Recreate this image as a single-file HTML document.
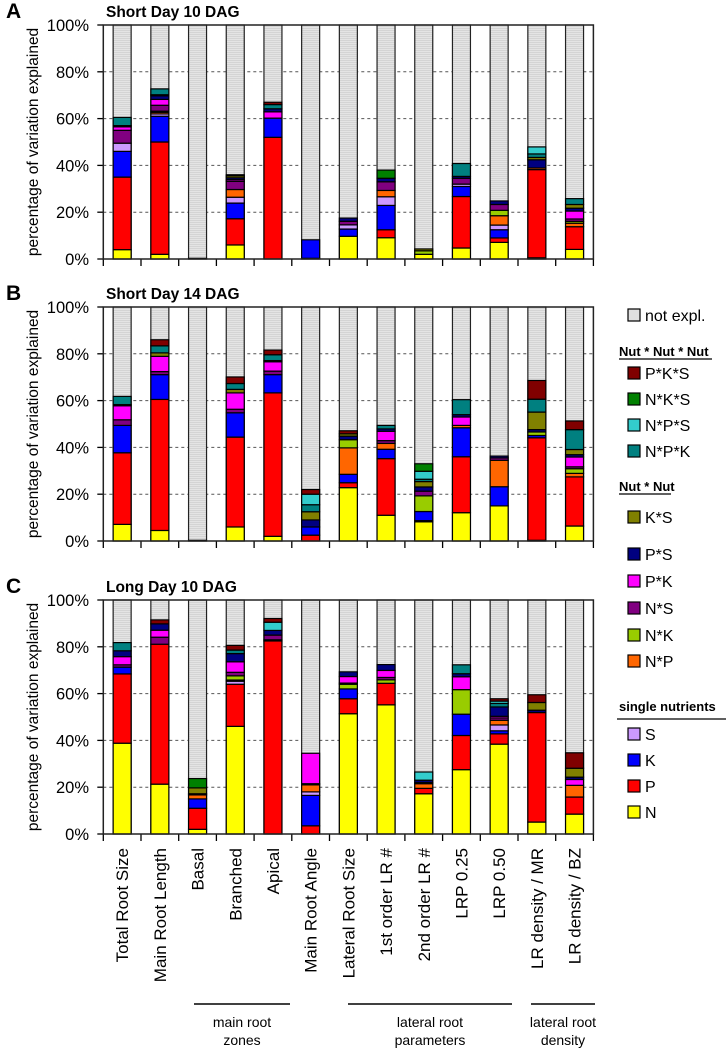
<!DOCTYPE html>
<html><head><meta charset="utf-8"><style>
body{margin:0;background:#fff}
svg{display:block;font-family:"Liberation Sans",Arial,sans-serif}
</style></head><body>
<svg id="chart" width="728" height="1048" viewBox="0 0 728 1048" xmlns="http://www.w3.org/2000/svg">
<defs>
<pattern id="stripe" width="4" height="2" patternUnits="userSpaceOnUse">
<rect width="4" height="2" fill="#e4e4e4"/><rect width="4" height="1" fill="#d4d4d4"/>
</pattern>
</defs>
</svg>
<script>
const categories=["Total Root Size","Main Root Length","Basal","Branched","Apical","Main Root Angle","Lateral Root Size","1st order LR #","2nd order LR #","LRP 0.25","LRP 0.50","LR density / MR","LR density / BZ"];
const panelTitles=["Short Day 10 DAG","Short Day 14 DAG","Long Day 10 DAG"];
const panelLetters=["A","B","C"];
const yTicks=[0,20,40,60,80,100];
const N=[[4,2,0.3,6,0,0,9.7,9.1,2,4.7,7.1,0.5,4.1],[7.1,4.5,0.3,6,2,0,22.8,11,8.2,12.1,15,0.3,6.4],[38.8,21.3,2,46,0,0,51.4,55.2,17.2,27.5,38.4,5.1,8.5]];
const P=[[31,48,0,11.2,52,0.3,0,3.4,0,22,1.9,37.7,9.7],[30.6,56,0,38.4,61.3,2.5,2.1,24.2,0.5,23.9,0,43.8,21],[29.6,59.8,9,18,82.5,3.5,6.4,9.2,2.3,14.6,4.4,46.8,7.3]];
const K=[[11,11,0,6.7,8.2,7.9,3.1,10.4,0,4.3,3.5,0,0],[11.7,10.6,0,10.4,7.8,3.5,3.6,4,3.9,12.4,8.2,1,0],[2.9,0,4,0,0,13,4.2,0,0,9.1,1.3,0,0]];
const S=[[3.5,1,0,2.5,0,0,1.8,3.7,0,1,2,0,0],[0,0,0,0,0,0,0,0,0,0,0,0,0],[0,0,0,1.3,0.5,1.5,0,0,0,0,2.5,0,0]];
const NP=[[0,0.7,0,3.3,0,0,0,2.7,0,0,4,0.7,1.5],[0,0,0,0,0,0,11.3,2.5,0,1,11.3,0,1.5],[0,0,1.7,0.5,0,3,0,0,2,0,2,0,5]];
const NK=[[0,0.5,0,0,0,0,0,0,1.5,0,2.3,0,0.8],[0,0,0,0,0,0,3.5,0,6.7,0,0,1.5,2],[0,0,0,1.8,0,0,2,1.5,0,10.5,0,0,0]];
const NS=[[5.5,2.5,0,3.5,0,0,1.5,3.7,0,2.5,2.5,0,1],[2.4,1.3,0,1.5,1.5,0,0,1.2,2,0,1,0,0.8],[1,3,0.5,1.5,2,0.5,0.5,1,0.5,0,1,0,0]];
const PK=[[1.5,2.5,0,0.7,2.7,0,0,0,0,0,0,0,3.4],[6,6.5,0,7,4,0,0,4,0,3.6,0,0,4.2],[3.5,3,0,4.5,0,13,2.8,3,0,5.5,0.7,0,2.5]];
const PS=[[0.5,1.5,0,0.8,1.3,0,1.4,1.5,0,0.8,1.5,3.5,1.2],[0.5,0,0,0,0,3,1.5,1,1.8,1,0.8,1,1],[2.5,2.7,0,3.5,2,0,2,2.5,1,1.3,4,1,1]];
const KS=[[0,0.5,0,0.8,0,0,0,0,0.8,0,0,1,1.6],[0,1.5,0,1.5,0.5,3.5,1,0,2.3,0,0,7.5,2.2],[0,0,2.5,0,0,0,0,0,0,0,0,3.3,3.8]];
const NPK=[[3.5,2.5,0,0.5,1.8,0,0,0,0,5.5,0,1.5,2.5],[3.5,3,0,2.5,2.5,3,0,1.5,1,6.4,0,5.5,8.5],[3.5,0,0,1.5,0,0,0,0,0,3.8,1.5,0,0]];
const NPS=[[0,0,0,0,0,0,0,0,0,0,0,3,0],[0,0,0,0,0,4.5,0,0,3.4,0,0,0,0],[0,0,0,0,3.5,0,0,0,3.5,0,1,0,0]];
const NKS=[[0,0,0,0,0,0,0,3.5,0,0,0,0,0],[0,0,0,0,0,0,0,0,3.2,0,0,0,0],[0,0,4,0,0,0,0,0,0,0,0,0,0]];
const PKS=[[0,0,0,0,1,0,0,0,0,0,0,0,0],[0,2.6,0,2.8,2,2,1.3,0,0,0,0,8,3.7],[0,1.7,0,2,1.6,0,0,0,0,0,1,3.3,6.6]];

const series=[["N",N,"#ffff00"],["P",P,"#ff0000"],["K",K,"#0000ff"],["S",S,"#cc99ff"],["N*P",NP,"#ff6600"],["N*K",NK,"#99cc00"],["N*S",NS,"#800080"],["P*K",PK,"#ff00ff"],["P*S",PS,"#000080"],["K*S",KS,"#808000"],["N*P*K",NPK,"#008080"],["N*P*S",NPS,"#33cccc"],["N*K*S",NKS,"#008000"],["P*K*S",PKS,"#800000"]];

const svg=document.getElementById('chart');
const NS_='http://www.w3.org/2000/svg';
function mk(tag,attrs,parent){const e=document.createElementNS(NS_,tag);for(const k in attrs)e.setAttribute(k,attrs[k]);(parent||svg).appendChild(e);return e;}
const x0=103.3, cw=37.7, bw=18;
const panelTop=[25,307,600], ph=234;
function xC(i){return x0+cw*(i+0.5);}
function yS(p,v){return panelTop[p]+ph*(1-v/100);}

for(let p=0;p<3;p++){
  const g=mk('g',{});
  
  
  const lt=mk('text',{x:6,y:panelTop[p]-7,'font-size':21,'font-weight':'bold'},g);lt.textContent=panelLetters[p];
  
  const tt=mk('text',{x:106,y:panelTop[p]-8,'font-size':15.5,'font-weight':'bold'},g);tt.textContent=panelTitles[p];
  
  const yt=mk('text',{transform:`translate(38,${panelTop[p]+ph/2}) rotate(-90)`,'text-anchor':'middle','font-size':15.5},g);yt.textContent='percentage of variation explained';
  
  const x1=x0+cw*13;
  yTicks.forEach(t=>{
    const y=yS(p,t);
    if(t>0&&t<100){const gl=mk('line',{x1:x0,x2:x1,y1:y,y2:y,stroke:'#555','stroke-width':1,'stroke-dasharray':'3,3'},g);}
    mk('line',{x1:x0-6,x2:x0,y1:y,y2:y,stroke:'#000','stroke-width':1.3},g);
    const lb=mk('text',{x:89,y:y+6,'text-anchor':'end','font-size':16.5},g);lb.textContent=t+'%';
    
  });
  for(let i=0;i<=13;i++){const x=x0+cw*i;mk('line',{x1:x,x2:x,y1:yS(p,0),y2:yS(p,0)+7,stroke:'#000','stroke-width':1.3},g);}
  for(let i=0;i<13;i++){
    const bg=mk('g',{},g);
    
    
    const bx=xC(i)-bw/2;
    const nr=mk('rect',{x:bx,y:yS(p,100),width:bw,height:ph,fill:'url(#stripe)',stroke:'#222','stroke-width':1.2},bg);
    
    let cum=0;
    series.forEach(s=>{
      const v=s[1][p][i];if(v<=0)return;
      const r=mk('rect',{x:bx,y:yS(p,cum+v),width:bw,height:yS(p,cum)-yS(p,cum+v),fill:s[2],stroke:'#000','stroke-width':1.2},bg);
      
      
      cum+=v;
    });
  }
  const ax=mk('path',{d:`M${x0},${yS(p,100)} V${yS(p,0)} H${x1} V${yS(p,100)} Z`,fill:'none',stroke:'#222','stroke-width':1.5},g);
  
}
categories.forEach((c,i)=>{
  const t=mk('text',{transform:`translate(${xC(i)+6},848) rotate(-90)`,'text-anchor':'end','font-size':17},svg);
  t.textContent=c;
  
});
const groups=[[194,290,"main root","zones"],[348,512,"lateral root","parameters"],[531,595,"lateral root","density"]];
groups.forEach(gr=>{
  const g=mk('g',{});
  
  mk('line',{x1:gr[0],x2:gr[1],y1:1004,y2:1004,stroke:'#000','stroke-width':1.5},g);
  const cx=(gr[0]+gr[1])/2;
  const a=mk('text',{x:cx,y:1027,'text-anchor':'middle','font-size':14},g);a.textContent=gr[2];
  const b=mk('text',{x:cx,y:1045,'text-anchor':'middle','font-size':14},g);b.textContent=gr[3];
});
// legend
const lg=mk('g',{});

function entry(label,color,y){
  const e=mk('g',{},lg);
  
  mk('rect',{x:628,y:y-11,width:12,height:12,fill:color,stroke:'#000','stroke-width':1.2},e);
  const t=mk('text',{x:645,y:y+1,'font-size':16},e);t.textContent=label;
}
function header(label,y,x2){
  const t=mk('text',{x:619,y:y,'font-size':13,'font-weight':'bold'},lg);t.textContent=label;
  
  mk('line',{x1:619,x2:x2,y1:y+3,y2:y+3,stroke:'#000','stroke-width':1.2},lg);
}
entry('not expl.','#e0e0e0',320);
header('Nut * Nut * Nut',356,712);
entry('P*K*S','#800000',378);entry('N*K*S','#008000',404);entry('N*P*S','#33cccc',430);entry('N*P*K','#008080',456);
header('Nut * Nut',491,671);
entry('K*S','#808000',522);entry('P*S','#000080',559);entry('P*K','#ff00ff',586);entry('N*S','#800080',613);entry('N*K','#99cc00',640);entry('N*P','#ff6600',666);
mk('text',{x:619,y:711,'font-size':13,'font-weight':'bold'},lg).textContent='single nutrients';
mk('line',{x1:617,x2:726,y1:719,y2:719,stroke:'#000','stroke-width':1.2},lg);
entry('S','#cc99ff',739);entry('K','#0000ff',765);entry('P','#ff0000',791);entry('N','#ffff00',817);
</script>
</body></html>
